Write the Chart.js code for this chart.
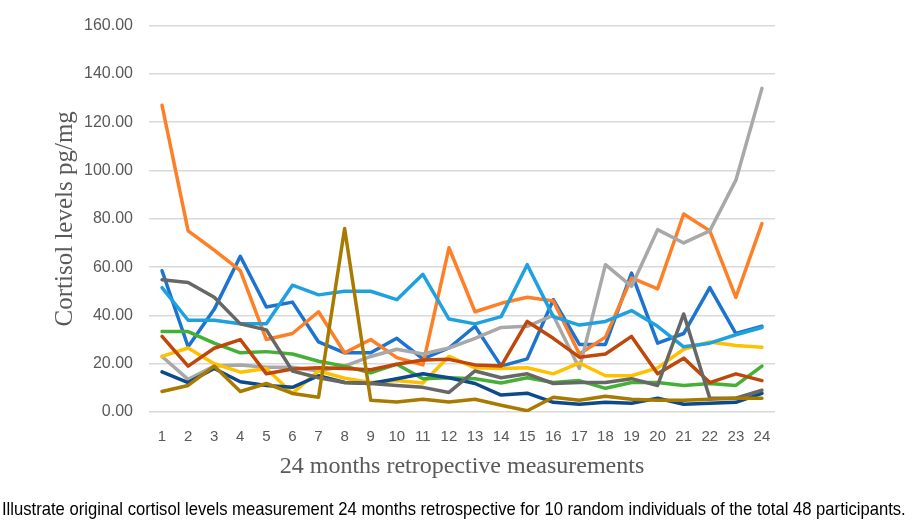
<!DOCTYPE html>
<html>
<head>
<meta charset="utf-8">
<script src="https://cdn.jsdelivr.net/npm/chart.js@4.4.1/dist/chart.umd.min.js"></script>
<style>
  html, body { margin: 0; padding: 0; background: #fff; }
  #wrap { position: relative; width: 912px; height: 527px; overflow: hidden; }
  #chart { position: absolute; left: 0; top: 0; }
  #caption {
    position: absolute; left: 2px; top: 498px; white-space: nowrap;
    font-family: "Liberation Sans Narrow", "Liberation Sans", sans-serif;
    font-size: 19px; color: #000;
    transform: scaleX(0.875); transform-origin: left top;
  }
</style>
</head>
<body>
<div id="wrap">
  <canvas id="chart" width="912" height="527"></canvas>
  <div id="caption">Illustrate original cortisol levels measurement 24 months retrospective for 10 random individuals of the total 48 participants.</div>
</div>
<script>
// months 1..24
const months = ['1','2','3','4','5','6','7','8','9','10','11','12','13','14','15','16','17','18','19','20','21','22','23','24'];

// cortisol pg/mg per individual
const blue      = [58.5, 27, 42.5, 64.5, 43.5, 45.5, 29, 24.5, 24.5, 30.5, 22, 26.5, 35.5, 19, 22, 46.5, 28, 28, 57.5, 28.5, 32.5, 51.5, 32.5, 35.5];
const orange    = [127, 75, 67, 58.5, 30, 32.5, 41.5, 24.5, 30, 22.5, 19.5, 68, 41.5, 45, 47.5, 46, 24, 31, 55.5, 51, 82, 75, 47.5, 78];
const lightGray = [23, 13.5, 19, 19.5, 18.5, 18.5, 17, 19, 23, 26, 24, 26.5, 30.5, 35, 35.5, 40, 18, 61, 52, 75.5, 70, 75, 96, 134];
const gold      = [23, 26.5, 20, 16.5, 18, 7.7, 17, 14, 12.2, 13, 12, 23, 18.3, 18, 18.3, 15.8, 20.3, 15, 15, 18.3, 26, 29, 27.5, 26.8];
const skyBlue   = [51.5, 38, 38, 36.5, 36.5, 52.5, 48.5, 50, 50, 46.5, 57, 38.5, 36.5, 39.5, 61, 39.5, 36, 37.5, 42, 35.5, 27, 28.5, 32, 35];
const green     = [33.3, 33.3, 28.5, 24.5, 25, 24, 21, 19, 16.2, 19.8, 13.8, 14.2, 13.8, 12, 14.2, 12.2, 13, 9.8, 12.2, 12.2, 11, 11.8, 11, 19];
const navy      = [16.6, 12.2, 18, 12.5, 11, 10.2, 15, 12.2, 11.8, 13.8, 15.8, 14.2, 11.8, 7, 7.8, 4, 3.2, 4, 3.6, 5.7, 3.2, 3.6, 4, 7.7];
const rust      = [31.3, 19, 26.4, 30, 15.8, 17.8, 18.3, 18, 17.5, 19.8, 21.5, 21.8, 19.5, 19, 37.5, 30.5, 22.7, 24, 31.3, 15.8, 22.3, 12.2, 15.8, 13];
const darkGray  = [54.8, 53.6, 47.5, 36.5, 34, 17, 14.2, 12.2, 11.8, 11, 10.2, 8.1, 17, 14.2, 15.8, 11.8, 12.2, 12.2, 13.8, 11, 40.6, 5.7, 5.7, 9];
const olive     = [8.5, 11, 19, 8.5, 11.8, 7.7, 6.1, 76, 4.9, 4.1, 5.3, 4.1, 5.3, 2.8, 0.5, 6.1, 4.9, 6.5, 5.3, 4.9, 4.9, 5.3, 5.7, 5.7];

const seriesData = [blue, orange, lightGray, gold, skyBlue, green, navy, rust, darkGray, olive];
const seriesColors = ['#1C74CF', '#FF7F27', '#A8A8A8', '#FFC000', '#1FA1E0', '#45B035', '#0D4A8C', '#C0470A', '#676767', '#A87A00'];

const yTicks = [0, 20, 40, 60, 80, 100, 120, 140, 160];

const datasets = seriesData.map((d, i) => ({
    label: 'Individual ' + (i + 1),
    data: d,
    borderColor: seriesColors[i],
    backgroundColor: seriesColors[i],
    borderWidth: 3.5,
    pointRadius: 0,
    tension: 0,
    borderJoinStyle: 'round',
    borderCapStyle: 'round',
    order: seriesData.length - i   // last series painted on top, like the original
}));

new Chart(document.getElementById('chart'), {
    type: 'line',
    data: { labels: months, datasets: datasets },
    options: {
        responsive: false,
        animation: false,
        layout: { padding: { left: 0, right: 137, top: 18, bottom: 37 } },
        plugins: { legend: { display: false }, tooltip: { enabled: false } },
        scales: {
            x: {
                offset: true,
                grid: { display: false, drawTicks: false },
                border: { display: false },
                ticks: { color: '#595959', font: { family: 'Liberation Sans', size: 15 }, padding: 16, maxRotation: 0, autoSkip: false },
                title: { display: true, text: '24 months retropective measurements', color: '#595959',
                         font: { family: 'Liberation Serif', size: 24 }, padding: { top: 0, bottom: 9 } },
                afterFit: s => { s.height = 78; }
            },
            y: {
                min: 0, max: 160,
                afterBuildTicks: s => { s.ticks = yTicks.map(v => ({ value: v })); },
                grid: { color: '#D9D9D9', lineWidth: 1.5, drawTicks: false },
                border: { display: false },
                ticks: { color: '#595959', font: { family: 'Liberation Sans', size: 16 }, padding: 16,
                         callback: v => v.toFixed(2) },
                title: { display: true, text: 'Cortisol levels pg/mg', color: '#595959',
                         font: { family: 'Liberation Serif', size: 25 }, padding: { top: 50, bottom: 0 } },
                afterFit: s => { s.width = 149; }
            }
        }
    }
});
</script>
</body>
</html>
